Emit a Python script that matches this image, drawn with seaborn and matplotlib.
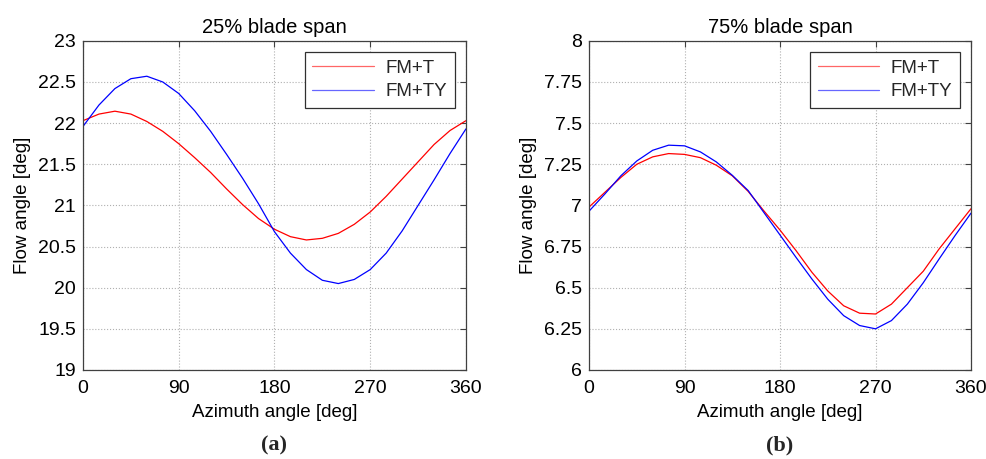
import numpy as np
import pandas as pd
import matplotlib
matplotlib.use("Agg")
import matplotlib.pyplot as plt
import seaborn as sns
from matplotlib.ticker import FuncFormatter

# ---------------- data ----------------
azimuth = [0, 15, 30, 45, 60, 75, 90, 105, 120, 135, 150, 165, 180,
           195, 210, 225, 240, 255, 270, 285, 300, 315, 330, 345, 360]

span25_fmt = [22.03, 22.11, 22.145, 22.11, 22.02, 21.90, 21.75, 21.58, 21.40,
              21.20, 21.01, 20.84, 20.71, 20.62, 20.58, 20.60, 20.66, 20.77,
              20.92, 21.11, 21.32, 21.53, 21.74, 21.91, 22.03]
span25_fmty = [21.96, 22.22, 22.42, 22.54, 22.57, 22.50, 22.36, 22.15, 21.90,
               21.62, 21.33, 21.02, 20.68, 20.42, 20.22, 20.09, 20.05, 20.10,
               20.22, 20.42, 20.69, 21.00, 21.31, 21.63, 21.93]

span75_fmt = [6.99, 7.08, 7.17, 7.25, 7.295, 7.315, 7.31, 7.29, 7.244, 7.18,
              7.085, 6.965, 6.85, 6.726, 6.594, 6.48, 6.39, 6.345, 6.34, 6.40,
              6.50, 6.60, 6.736, 6.858, 6.98]
span75_fmty = [6.965, 7.07, 7.18, 7.27, 7.335, 7.366, 7.362, 7.325, 7.264,
               7.183, 7.09, 6.955, 6.82, 6.685, 6.553, 6.43, 6.33, 6.27, 6.25,
               6.30, 6.40, 6.53, 6.675, 6.817, 6.953]

series_names = ["FM+T", "FM+TY"]
series_colors = ["#ff0000", "#0000ff"]
titles = ["25% blade span", "75% blade span"]
panel_tags = ["(a)", "(b)"]
xticks = [0, 90, 180, 270, 360]
yticks_25 = [19, 19.5, 20, 20.5, 21, 21.5, 22, 22.5, 23]
yticks_75 = [6, 6.25, 6.5, 6.75, 7, 7.25, 7.5, 7.75, 8]

# ---------------- style ----------------
sns.set_theme(style="white")
plt.rcParams["font.family"] = ["Liberation Sans", "DejaVu Sans"]
plt.rcParams["xtick.direction"] = "in"
plt.rcParams["ytick.direction"] = "in"

fig = plt.figure(figsize=(9.87, 4.59), dpi=100)
ax1 = fig.add_axes([0.0841, 0.194, 0.388, 0.717])
ax2 = fig.add_axes([0.5968, 0.194, 0.387, 0.717])

panels = [
    (ax1, span25_fmt, span25_fmty, yticks_25),
    (ax2, span75_fmt, span75_fmty, yticks_75),
]

def fmt(v, pos):
    return ("%g" % v)

for i, (ax, a, b, yt) in enumerate(panels):
    df = pd.DataFrame({
        "Azimuth": azimuth * 2,
        "Flow": a + b,
        "Series": [series_names[0]] * len(azimuth) + [series_names[1]] * len(azimuth),
    })
    sns.lineplot(data=df, x="Azimuth", y="Flow", hue="Series",
                 palette=dict(zip(series_names, series_colors)),
                 linewidth=0.9, ax=ax, legend=True)
    ax.set_xlim(0, 360)
    ax.set_ylim(yt[0], yt[-1])
    ax.set_xticks(xticks)
    ax.set_yticks(yt)
    ax.yaxis.set_major_formatter(FuncFormatter(fmt))
    ax.grid(True, linestyle=":", color="#b0b0b0", linewidth=0.8)
    ax.tick_params(axis="both", which="both", direction="in", top=True,
                   right=True, length=4, width=0.8, color="#404040",
                   labelsize=14, labelcolor="black")
    ax.tick_params(axis="x", pad=7)
    ax.tick_params(axis="y", pad=5)
    for sp in ax.spines.values():
        sp.set_visible(True)
        sp.set_color("#404040")
        sp.set_linewidth(0.9)
    ax.set_xlabel("Azimuth angle [deg]", fontsize=13.5, labelpad=5, color="black")
    ax.set_ylabel("Flow angle [deg]", fontsize=13.5, labelpad=5, color="black")
    ax.set_title(titles[i], fontsize=14.5, pad=6, color="black")
    leg = ax.legend(loc="upper right", fontsize=13.5, frameon=True, fancybox=False,
                    edgecolor="#303030", framealpha=1, borderpad=0.4,
                    handlelength=3.3, handletextpad=0.6, labelspacing=0.35,
                    borderaxespad=0.6)
    leg.get_frame().set_linewidth(0.9)
    for ln in leg.get_lines():
        ln.set_linewidth(0.9)
        ln.set_alpha(0.6)
    pos = ax.get_position()
    fig.text(pos.x0 + pos.width / 2, 0.03, panel_tags[i], ha="center",
             va="center", fontsize=16, fontweight="bold",
             family=["Liberation Serif", "DejaVu Serif"])

fig.savefig("out.png", dpi=100, facecolor="white")
